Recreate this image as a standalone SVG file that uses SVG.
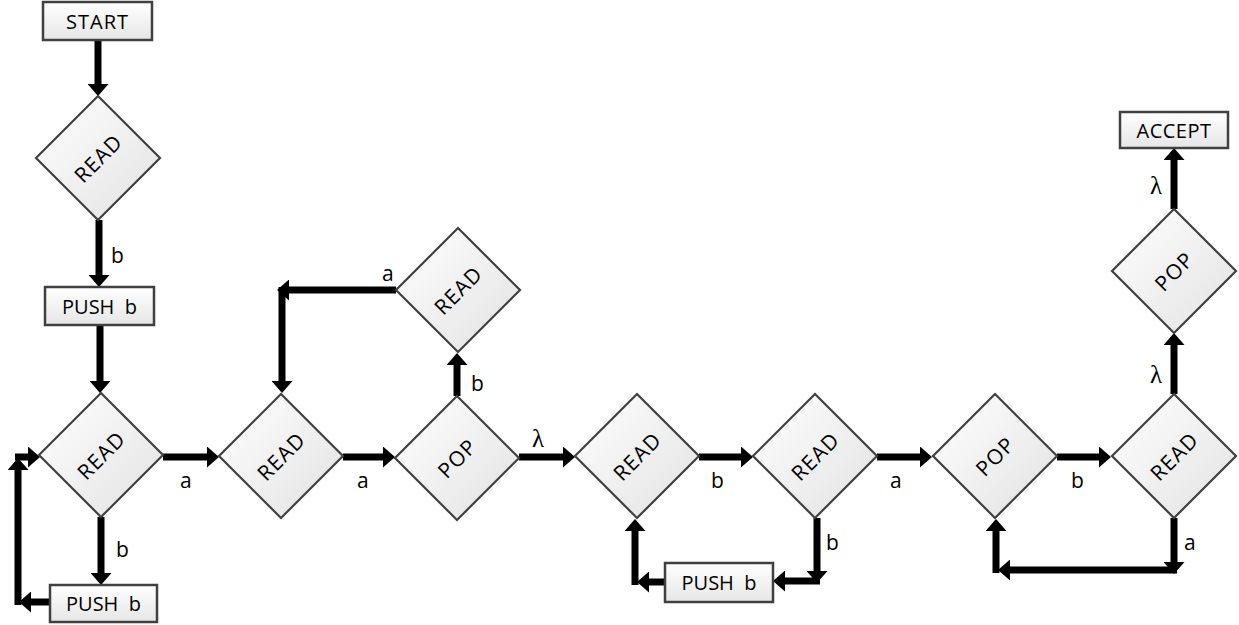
<svg xmlns="http://www.w3.org/2000/svg" width="1239" height="625" viewBox="0 0 1239 625">
<style>
.box{fill:url(#gBox);stroke:#404040;stroke-width:2.5}
.dia{fill:url(#gDia);stroke:#404040;stroke-width:2.2}
.t{font-family:"Open Sans","DejaVu Sans",sans-serif;font-size:20px;fill:#000;text-anchor:middle;dominant-baseline:central}
.d{font-family:"Open Sans","DejaVu Sans",sans-serif;font-size:21px;fill:#000;text-anchor:middle;dominant-baseline:central;letter-spacing:1.2px}
.lbl{font-family:"Open Sans","DejaVu Sans",sans-serif;font-size:21px;fill:#000}
.lam{font-family:"Liberation Serif","DejaVu Serif",serif;font-size:25px;fill:#000}
.c{stroke:#000;stroke-width:7;fill:none;marker-end:url(#ah)}
</style>
<defs>
<linearGradient id="gBox" x1="0" y1="0" x2="0" y2="1">
<stop offset="0" stop-color="#ffffff"/><stop offset="1" stop-color="#e6e6e6"/>
</linearGradient>
<linearGradient id="gDia" x1="0" y1="0" x2="1" y2="1">
<stop offset="0" stop-color="#ffffff"/><stop offset="1" stop-color="#e2e2e2"/>
</linearGradient>
<marker id="ah" markerUnits="userSpaceOnUse" markerWidth="12" markerHeight="21" viewBox="0 0 12 21" refX="4" refY="10.5" orient="auto">
<path d="M0,0 L12,10.5 L0,21 z" fill="#000"/>
</marker>
</defs>
<rect width="1239" height="625" fill="#fff"/>
<g id="connectors">
<path class="c" d="M98,40 V88"/>
<path class="c" d="M99,220 V279"/>
<path class="c" d="M100,325 V385"/>
<path class="c" d="M101,517 V577"/>
<path class="c" d="M50,602 H27"/>
<path class="c" d="M18,605 V466"/>
<path class="c" d="M15,457 H32"/>
<path class="c" d="M163,457 H211"/>
<path class="c" d="M343,457 H387"/>
<path class="c" d="M457,396 V361"/>
<path class="c" d="M396,290 H285"/>
<path class="c" d="M282,287 V385"/>
<path class="c" d="M519,457 H567"/>
<path class="c" d="M699,457 H745"/>
<path class="c" d="M817,518 V575"/>
<path class="c" d="M820,581 H781"/>
<path class="c" d="M665,582 H645"/>
<path class="c" d="M635,585 V527"/>
<path class="c" d="M877,457 H924"/>
<path class="c" d="M1057,457 H1103"/>
<path class="c" d="M1174,518 V566"/>
<path class="c" d="M1177,570 H1006"/>
<path class="c" d="M996,573 V527"/>
<path class="c" d="M1174,394 V341"/>
<path class="c" d="M1174,209 V156"/>
<text class="lbl" x="111" y="263">b</text>
<text class="lbl" x="116" y="557">b</text>
<text class="lbl" x="180" y="488">a</text>
<text class="lbl" x="357" y="488">a</text>
<text class="lbl" x="471" y="391">b</text>
<text class="lbl" x="382" y="281">a</text>
<text class="lam" x="532" y="447">λ</text>
<text class="lbl" x="711" y="488">b</text>
<text class="lbl" x="826" y="550">b</text>
<text class="lbl" x="890" y="488">a</text>
<text class="lbl" x="1071" y="488">b</text>
<text class="lbl" x="1184" y="550">a</text>
<text class="lam" x="1150" y="383">λ</text>
<text class="lam" x="1150" y="194">λ</text>
</g>
<g id="start"><rect class="box" x="43" y="2" width="109" height="38"/><text class="t" x="97.5" y="21" letter-spacing="1">START</text></g>
<g id="read1" transform="translate(98,158)"><polygon class="dia" points="0,-62 62,0 0,62 -62,0"/><text class="d" transform="rotate(-45)">READ</text></g>
<g id="push1"><rect class="box" x="45" y="287" width="109" height="38"/><text class="t" x="99.5" y="306" xml:space="preserve">PUSH  b</text></g>
<g id="read2" transform="translate(101,455)"><polygon class="dia" points="0,-62 62,0 0,62 -62,0"/><text class="d" transform="rotate(-45)">READ</text></g>
<g id="push2"><rect class="box" x="50" y="585" width="107" height="37"/><text class="t" x="103.5" y="603.5" xml:space="preserve">PUSH  b</text></g>
<g id="read3" transform="translate(281,456)"><polygon class="dia" points="0,-62 62,0 0,62 -62,0"/><text class="d" transform="rotate(-45)">READ</text></g>
<g id="pop1" transform="translate(457,458)"><polygon class="dia" points="0,-62 62,0 0,62 -62,0"/><text class="d" transform="rotate(-45)">POP</text></g>
<g id="read4" transform="translate(458,290)"><polygon class="dia" points="0,-62 62,0 0,62 -62,0"/><text class="d" transform="rotate(-45)">READ</text></g>
<g id="read5" transform="translate(637,456)"><polygon class="dia" points="0,-62 62,0 0,62 -62,0"/><text class="d" transform="rotate(-45)">READ</text></g>
<g id="read6" transform="translate(815,456)"><polygon class="dia" points="0,-62 62,0 0,62 -62,0"/><text class="d" transform="rotate(-45)">READ</text></g>
<g id="push3"><rect class="box" x="665" y="563" width="108" height="39"/><text class="t" x="719" y="582.5" xml:space="preserve">PUSH  b</text></g>
<g id="pop2" transform="translate(995,456)"><polygon class="dia" points="0,-62 62,0 0,62 -62,0"/><text class="d" transform="rotate(-45)">POP</text></g>
<g id="read7" transform="translate(1174,456)"><polygon class="dia" points="0,-62 62,0 0,62 -62,0"/><text class="d" transform="rotate(-45)">READ</text></g>
<g id="pop3" transform="translate(1174,271)"><polygon class="dia" points="0,-62 62,0 0,62 -62,0"/><text class="d" transform="rotate(-45)">POP</text></g>
<g id="accept"><rect class="box" x="1120" y="112" width="108" height="36"/><text class="t" x="1174" y="130" letter-spacing="0.5">ACCEPT</text></g>
</svg>
